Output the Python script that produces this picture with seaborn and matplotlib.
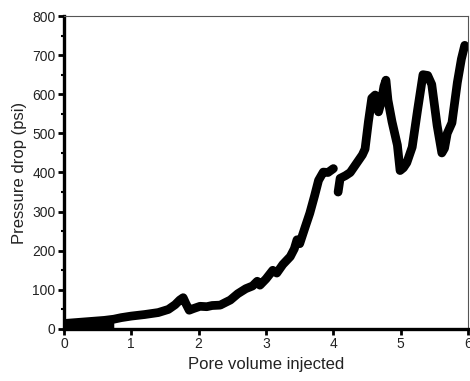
import matplotlib
matplotlib.use("Agg")
import matplotlib.pyplot as plt
import seaborn as sns
import pandas as pd
from matplotlib.ticker import MultipleLocator

# dense noisy start region (band)
band_x = [0.0, 0.3, 0.6, 0.74]
band_lo = [0, 0, 0, 0]
band_hi = [14, 18, 22, 25]

# first continuous segment
seg1_x = [0.0, 0.3, 0.6, 0.74, 0.85, 1.0, 1.2, 1.4, 1.55, 1.65, 1.72, 1.77, 1.81, 1.86,
          1.92, 2.02, 2.12, 2.2, 2.32, 2.4, 2.47, 2.58, 2.7, 2.8, 2.87, 2.91, 3.0,
          3.1, 3.16, 3.25, 3.36, 3.42, 3.46, 3.5, 3.58, 3.65, 3.72, 3.78, 3.85,
          3.92, 4.0]
seg1_y = [14, 18, 22, 25, 29, 33, 37, 42, 50, 62, 74, 80, 65, 48,
          52, 58, 57, 60, 61, 68, 74, 90, 103, 110, 122, 112, 128,
          150, 143, 165, 185, 205, 228, 218, 260, 296, 340, 380, 401,
          400, 410]

# second segment after the gap
seg2_x = [4.07, 4.1, 4.18, 4.25, 4.33, 4.43, 4.47, 4.52, 4.57, 4.62, 4.67, 4.71,
          4.75, 4.78, 4.81, 4.87, 4.95, 4.99, 5.04, 5.09, 5.17, 5.25, 5.33, 5.4,
          5.46, 5.54, 5.61, 5.65, 5.69, 5.76, 5.84, 5.9, 5.95]
seg2_y = [350, 385, 392, 400, 420, 445, 460, 530, 590, 598, 555, 580,
          620, 636, 585, 530, 470, 405, 412, 425, 465, 560, 650, 648,
          625, 520, 450, 462, 500, 527, 630, 690, 725]

x_ticks = [0, 1, 2, 3, 4, 5, 6]
y_ticks = [0, 100, 200, 300, 400, 500, 600, 700, 800]

sns.set_theme(style="ticks")
plt.rcParams['font.family'] = ['Liberation Sans', 'DejaVu Sans']

fig = plt.figure(figsize=(4.70, 3.81), dpi=100)
ax = fig.add_axes([0.136, 0.1365, 0.860, 0.8215])

ax.fill_between(band_x, band_lo, band_hi, color="black", linewidth=0)
df1 = pd.DataFrame({"x": seg1_x, "y": seg1_y})
df2 = pd.DataFrame({"x": seg2_x, "y": seg2_y})
for d in (df1, df2):
    sns.lineplot(data=d, x="x", y="y", ax=ax, sort=False, estimator=None,
                 color="black", linewidth=6.3, solid_capstyle="round",
                 solid_joinstyle="round")

ax.set_xlim(0, 6)
ax.set_ylim(0, 800)
ax.set_xticks(x_ticks)
ax.set_yticks(y_ticks)
ax.yaxis.set_minor_locator(MultipleLocator(50))

for s in ("left", "bottom"):
    ax.spines[s].set_linewidth(2.4)
    ax.spines[s].set_color("black")
for s in ("top", "right"):
    ax.spines[s].set_visible(True)
    ax.spines[s].set_linewidth(0.8)
    ax.spines[s].set_color("#555555")

ax.tick_params(which="major", length=4, width=2, color="black",
               labelsize=10, labelcolor="#222222", pad=2)
ax.tick_params(which="minor", length=2.5, width=1.5, color="black")

ax.set_xlabel("Pore volume injected", fontsize=12, color="#222222", labelpad=4)
ax.set_ylabel("Pressure drop (psi)", fontsize=12, color="#222222", labelpad=4)

fig.savefig("out.png", dpi=100)
